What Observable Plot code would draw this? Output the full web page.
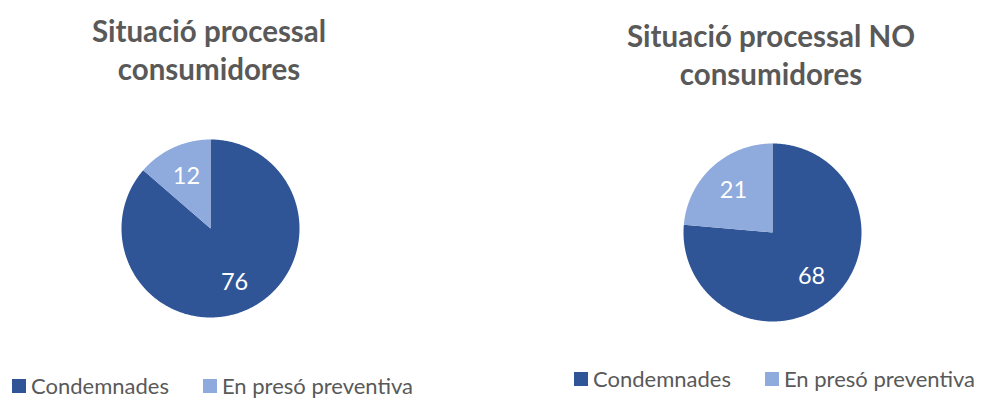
<!DOCTYPE html>
<html><head><meta charset="utf-8">
<script src="https://cdn.jsdelivr.net/npm/d3@7"></script>
<script src="https://cdn.jsdelivr.net/npm/@observablehq/plot@0.6"></script>
<style>
body{margin:0;background:#fff;}
#root{position:relative;width:981px;height:399px;font-family:Lato,"Open Sans",sans-serif;color:#595959;overflow:hidden;background:#fff}
.title{position:absolute;text-align:center;font-weight:bold;font-size:29.5px;line-height:38px;width:460px;white-space:nowrap}
.pie{position:absolute}
.legend{position:absolute;display:flex;align-items:center;font-size:22px;line-height:22px;white-space:nowrap}
.sw{display:inline-block;width:14px;height:14px;margin-right:5px}
.item{display:flex;align-items:center}
</style></head><body><div id="root"></div>
<script>
const categories = ["Condemnades", "En presó preventiva"];
const colors = ["#2F5597", "#8FAADC"];
const titleLeft = ["Situació processal", "consumidores"];
const titleRight = ["Situació processal NO", "consumidores"];
const valuesConsumidores = [76, 12];
const valuesNoConsumidores = [68, 21];

const root = document.getElementById("root");

function pieChart(values) {
  const arcs = d3.pie().sort(null)(values);
  const features = arcs.map((a, i) => {
    const n = Math.max(2, Math.ceil((a.endAngle - a.startAngle) / 0.01));
    const ring = [[0, 0]];
    for (let k = 0; k <= n; k++) {
      const t = a.startAngle + (a.endAngle - a.startAngle) * k / n;
      ring.push([Math.sin(t), -Math.cos(t)]);
    }
    ring.push([0, 0]);
    return {type: "Feature", properties: {category: categories[i], value: values[i]}, geometry: {type: "Polygon", coordinates: [ring]}};
  });
  const labels = arcs.map((a, i) => {
    const m = (a.startAngle + a.endAngle) / 2;
    return {x: 0.65 * Math.sin(m), y: -0.65 * Math.cos(m), text: String(values[i])};
  });
  return Plot.plot({
    width: 178, height: 178, margin: 0,
    projection: {type: "identity", domain: {type: "MultiPoint", coordinates: [[-1, -1], [1, 1]]}},
    color: {domain: categories, range: colors},
    marks: [
      Plot.geo(features, {fill: d => d.properties.category}),
      Plot.text(labels, {x: "x", y: "y", dy: 1, text: "text", fill: "white", fontSize: 23.5, fontFamily: "Lato, 'Open Sans', sans-serif"})
    ],
    style: {overflow: "visible", background: "transparent"}
  });
}

function addTitle(lines, cx, top) {
  const d = document.createElement("div");
  d.className = "title";
  d.style.left = (cx - 230) + "px";
  d.style.top = top + "px";
  d.innerHTML = lines.join("<br>");
  root.appendChild(d);
}

function addPie(values, cx, cy) {
  const d = document.createElement("div");
  d.className = "pie";
  d.style.left = (cx - 89) + "px";
  d.style.top = (cy - 89) + "px";
  d.appendChild(pieChart(values));
  root.appendChild(d);
}

function addLegend(x, top, gap) {
  const d = document.createElement("div");
  d.className = "legend";
  d.style.left = x + "px";
  d.style.top = top + "px";
  categories.forEach((c, i) => {
    const it = document.createElement("span");
    it.className = "item";
    if (i > 0) it.style.marginLeft = gap + "px";
    const sw = document.createElement("span");
    sw.className = "sw";
    sw.style.background = colors[i];
    it.appendChild(sw);
    it.appendChild(document.createTextNode(c));
    d.appendChild(it);
  });
  root.appendChild(d);
}

addTitle(titleLeft, 209, 11.5);
addTitle(titleRight, 771, 16.5);
addPie(valuesConsumidores, 210, 228);
addPie(valuesNoConsumidores, 772, 232);
addLegend(12, 375, 34);
addLegend(574, 368, 34);
</script></body></html>
